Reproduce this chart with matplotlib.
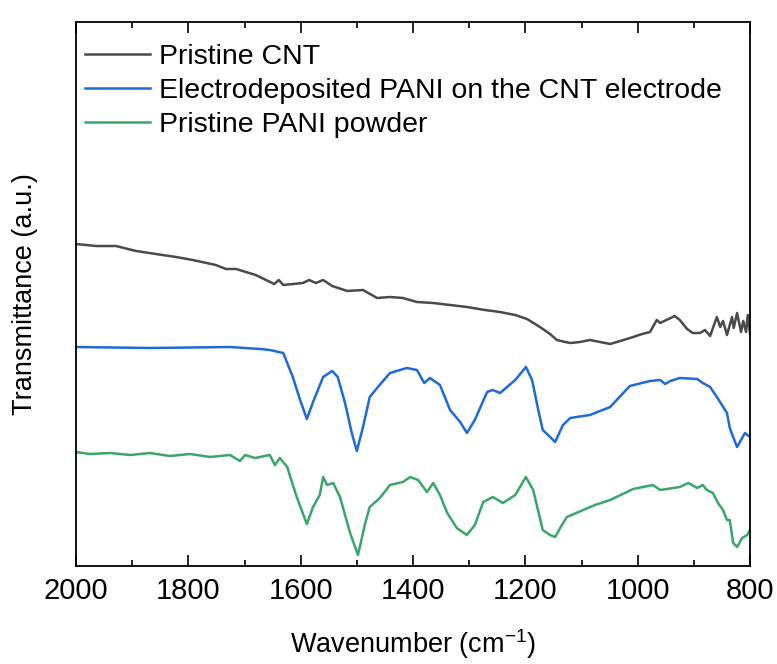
import matplotlib
matplotlib.use("Agg")
import matplotlib.pyplot as plt
from matplotlib.ticker import MultipleLocator

plt.rcParams['font.family'] = ['Liberation Sans', 'DejaVu Sans']
plt.rcParams['mathtext.fontset'] = 'custom'
plt.rcParams['mathtext.rm'] = 'Liberation Sans'
plt.rcParams['mathtext.default'] = 'regular'

# ---- data (wavenumber, transmittance a.u.) ----
cnt_w = [2000, 1964, 1929, 1893, 1858, 1822, 1792, 1751, 1733, 1715, 1680, 1647, 1639, 1631,
         1596, 1585, 1573, 1560, 1544, 1517, 1489, 1464, 1441, 1418, 1393, 1364, 1334, 1304,
         1272, 1245, 1218, 1197, 1174, 1156, 1144, 1129, 1120, 1103, 1085, 1067, 1049, 1031,
         1008, 992, 978, 966, 960, 934, 925, 912, 902, 889, 880, 871, 866, 859, 853, 848,
         841, 832, 829, 823, 816, 812, 807, 804, 800]
cnt_t = [322, 320, 320, 315, 312, 309, 306, 301, 297, 297, 291, 282, 286, 281,
         283, 286, 283, 286, 280, 275, 276, 268, 269, 268, 264, 263, 261, 259,
         256, 254, 251, 247, 239, 232, 226, 224, 223, 224, 226, 224, 222, 225,
         229, 232, 234, 246, 243, 250, 246, 237, 233, 233, 236, 230, 238, 249, 239, 245,
         231, 249, 238, 253, 234, 245, 234, 251, 233]

pani_cnt_w = [2000, 1868, 1726, 1672, 1655, 1631, 1614, 1601, 1589, 1578, 1560, 1544, 1534,
              1521, 1509, 1500, 1489, 1477, 1464, 1441, 1411, 1393, 1380, 1370, 1352, 1334,
              1316, 1304, 1290, 1268, 1258, 1245, 1218, 1199, 1188, 1177, 1169, 1156, 1147,
              1133, 1120, 1085, 1049, 1014, 978, 960, 951, 942, 925, 894, 884, 871, 859, 850,
              841, 836, 830, 823, 814, 809, 800]
pani_cnt_t = [219, 218, 219, 217, 216, 213, 189, 166, 147, 164, 189, 195, 189,
              163, 133, 115, 139, 169, 178, 193, 198, 196, 183, 188, 181, 156,
              144, 133, 146, 174, 176, 173, 186, 199, 186, 156, 136, 129, 124,
              141, 148, 151, 159, 180, 185, 186, 182, 185, 188, 187, 183, 179, 169, 161,
              153, 138, 129, 119, 128, 133, 129]

pani_w = [2000, 1975, 1939, 1904, 1868, 1833, 1797, 1761, 1726, 1708, 1699, 1681, 1664, 1655,
          1646, 1637, 1624, 1607, 1589, 1578, 1566, 1560, 1553, 1542, 1530, 1512, 1498, 1485,
          1477, 1459, 1441, 1418, 1405, 1391, 1375, 1364, 1352, 1339, 1322, 1304, 1290, 1275,
          1258, 1240, 1218, 1199, 1186, 1169, 1156, 1147, 1135, 1126, 1097, 1076, 1049, 1008,
          973, 960, 925, 910, 894, 884, 877, 866, 857, 848, 841, 836, 830, 823, 814, 805, 800]
pani_t = [114, 112, 113, 111, 113, 110, 112, 109, 111, 105, 111, 108, 110, 111,
          101, 108, 99, 69, 42, 59, 71, 89, 81, 83, 69, 33, 11, 43,
          59, 68, 81, 84, 89, 86, 74, 83, 71, 53, 38, 31, 41, 64,
          69, 63, 71, 89, 76, 36, 31, 29, 41, 49, 56, 61, 66, 77,
          81, 76, 79, 83, 78, 81, 76, 73, 63, 56, 46, 46, 23, 19, 28, 31, 36]

labels = ['Pristine CNT', 'Electrodeposited PANI on the CNT electrode', 'Pristine PANI powder']
colors = ['#4a4a4a', '#1f6bd6', '#3aa66a']
xticks = [2000, 1800, 1600, 1400, 1200, 1000, 800]

fig = plt.figure(figsize=(7.77, 6.64), dpi=100)
ax = fig.add_axes([76/777, 98/664, 674/777, 544/664])

for w, t, lab, c in zip([cnt_w, pani_cnt_w, pani_w], [cnt_t, pani_cnt_t, pani_t], labels, colors):
    ax.plot(w, t, color=c, lw=1.8, label=lab)

ax.set_xlim(2000, 800)
ax.set_ylim(0, 544)
ax.set_xticks(xticks)
ax.xaxis.set_minor_locator(MultipleLocator(100))
ax.set_yticks([])
ax.tick_params(axis='x', which='both', direction='in', top=True, bottom=True,
               width=1.2, labelsize=21, pad=8)
ax.tick_params(axis='x', which='major', length=8)
ax.tick_params(axis='x', which='minor', length=4.5)
for s in ax.spines.values():
    s.set_linewidth(1.3)

ax.set_xlabel('Wavenumber (cm$^{-1}$)', fontsize=19.5, labelpad=16)
ax.set_ylabel('Transmittance (a.u.)', fontsize=19.5, labelpad=27)

ax.legend(loc='upper left', bbox_to_anchor=(9/674, 1 - 22/544), frameon=False,
          fontsize=20.5, handlelength=2.3, handletextpad=0.3, labelspacing=0.28,
          borderaxespad=0.0, borderpad=0.0)

fig.savefig('out.png', dpi=100)
